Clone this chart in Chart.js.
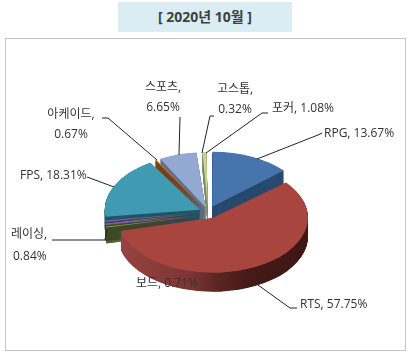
<!DOCTYPE html>
<html lang="ko">
<head>
    <meta charset="UTF-8">
    <title>2020년 10월</title>
    <script src="https://cdn.jsdelivr.net/npm/chart.js"></script>
    <style>
        body { margin: 0; background: #fff; }
        .title { position: absolute; left: 118px; top: 2px; width: 174px; height: 30px; background: #d9edf3;
            text-align: center; font: bold 14px "Open Sans", "Noto Sans CJK KR", sans-serif; line-height: 29px; color: #404040; }
        .frame { position: absolute; left: 5px; top: 38px; width: 399px; height: 311px; border: 1.5px solid #c4c4c4; }
        #pieChart { position: absolute; left: 0; top: 0; }
    </style>
</head>
<body>
<div class="title">[ 2020년 10월 ]</div>
<div class="frame"></div>
<canvas id="pieChart" width="411" height="356"></canvas>

<script>
    const categories = ['RPG', 'RTS', '보드', '레이싱', 'FPS', '아케이드', '스포츠', '고스톱', '포커'];
    const shares = [13.67, 57.75, 0.71, 0.84, 18.31, 0.67, 6.65, 0.32, 1.08];
    const topColors = ['#4674ab', '#a8453f', '#8fb04a', '#7b5ea3', '#3f9ab2', '#dd7e2b', '#93a9d2', '#d59a96', '#c3d69b'];
    const wallColors = ['#284a6e', null, '#3d4d1e', '#4a3566', '#1f5766', '#7a4015', '#5f6f90', '#8a5a57', '#7f8c62'];
    const sliceOffsets = [40, 44, 36, 36, 36, 36, 34, 34, 34];

    // label text lines with their position, and the leader from the label to the slice
    const labelLines = [
        [[324, 134, 'left', 'RPG, 13.67%']],
        [[300, 305, 'left', 'RTS, 57.75%']],
        [[136, 284, 'left', '보드, 0.71%']],
        [[11, 235, 'left', '레이싱,'], [13, 257, 'left', '0.84%']],
        [[20, 176, 'left', 'FPS, 18.31%']],
        [[71, 115, 'center', '아케이드,'], [71, 135, 'center', '0.67%']],
        [[163, 88, 'center', '스포츠,'], [163, 108, 'center', '6.65%']],
        [[235, 90, 'center', '고스톱,'], [235, 110, 'center', '0.32%']],
        [[272, 109, 'left', '포커, 1.08%']]
    ];
    const leaders = [
        [[322, 133], [318, 135], [257, 159]],
        [[297, 308], [290, 308], [258, 285]],
        null,
        [[52, 240], [105, 240], [107, 229]],
        [[87, 177], [114, 187]],
        [[102, 118], [108, 118], [157, 160]],
        [[180, 117], [179, 155]],
        [[214, 116], [210, 116], [202, 153]],
        [[268, 113], [262, 113], [206, 153]]
    ];

    const radius = 95;
    const squash = 0.58;
    const depth = 19;

    function rtsWall(ctx) {
        const g = ctx.createLinearGradient(120, 0, 308, 0);
        g.addColorStop(0, '#934340');
        g.addColorStop(0.35, '#7d3532');
        g.addColorStop(0.5, '#5a2421');
        g.addColorStop(0.65, '#451a18');
        g.addColorStop(1, '#3e1614');
        return g;
    }

    // draw one arc again in another colour, dropped by d (screen pixels)
    function drawArcAt(ctx, arc, color, d) {
        const orig = arc.options;
        arc.options = Object.assign(Object.create(orig), { backgroundColor: color, borderWidth: 0 });
        ctx.save();
        ctx.translate(0, d / squash);
        arc.draw(ctx);
        ctx.restore();
        arc.options = orig;
    }

    const pie3d = {
        id: 'pie3d',
        afterDatasetsUpdate(chart) {
            // an offset arc also grows by the offset, take that back so all slices keep one radius
            chart.getDatasetMeta(0).data.forEach((arc, i) => {
                const fix = 1 - Math.sin(Math.min(Math.PI, arc.circumference));
                arc.outerRadius = radius - sliceOffsets[i] / 4 * fix;
            });
        },
        beforeDatasetsDraw(chart) {
            const ctx = chart.ctx;
            const arcs = chart.getDatasetMeta(0).data;
            const cx = arcs[0].x, cy = arcs[0].y;
            ctx.save();
            ctx.translate(cx, cy);
            ctx.scale(1, squash);
            ctx.translate(-cx, -cy);
            // side walls, RTS last because it is in front
            [0, 8, 7, 6, 5, 4, 3, 2, 1].forEach(i => {
                const color = wallColors[i] || rtsWall(ctx);
                for (let d = depth; d > 0; d -= 0.5) {
                    drawArcAt(ctx, arcs[i], color, d);
                }
            });
        },
        afterDatasetsDraw(chart) {
            const ctx = chart.ctx;
            const arcs = chart.getDatasetMeta(0).data;
            // the FPS wall shows above the thin 레이싱 and 보드 strips, so push those down a little
            drawArcAt(ctx, arcs[2], topColors[2], 3);
            drawArcAt(ctx, arcs[3], topColors[3], 3);
            for (let d = 3; d > 0; d -= 0.5) {
                drawArcAt(ctx, arcs[4], wallColors[4], d);
            }
            drawArcAt(ctx, arcs[4], topColors[4], 0);
            ctx.restore();
        },
        afterDraw(chart) {
            const ctx = chart.ctx;
            ctx.save();
            ctx.strokeStyle = '#222';
            ctx.lineWidth = 1;
            leaders.forEach(pts => {
                if (!pts) return;
                ctx.beginPath();
                pts.forEach((p, i) => i ? ctx.lineTo(p[0], p[1]) : ctx.moveTo(p[0], p[1]));
                ctx.stroke();
            });
            ctx.fillStyle = '#333';
            ctx.font = '12px "Open Sans", "Noto Sans CJK KR", sans-serif';
            ctx.textBaseline = 'middle';
            labelLines.forEach(lines => lines.forEach(l => {
                ctx.textAlign = l[2];
                ctx.fillText(l[3], l[0], l[1]);
            }));
            ctx.restore();
        }
    };

    new Chart(document.getElementById('pieChart').getContext('2d'), {
        type: 'pie',
        data: {
            labels: categories,
            datasets: [{
                data: shares,
                backgroundColor: topColors,
                offset: sliceOffsets,
                borderWidth: 0,
                clip: false
            }]
        },
        options: {
            responsive: false,
            animation: false,
            radius: radius,
            layout: { padding: { left: 5, top: 68 } },
            plugins: { legend: { display: false }, tooltip: { enabled: false } }
        },
        plugins: [pie3d]
    });
</script>
</body>
</html>
